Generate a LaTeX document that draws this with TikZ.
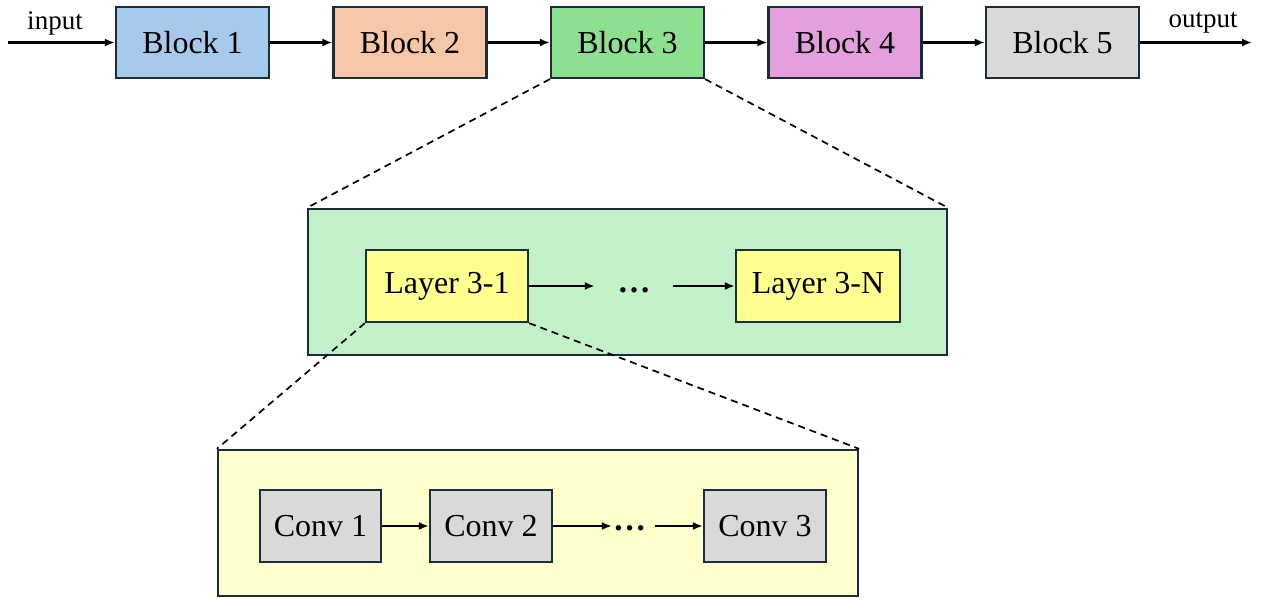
\documentclass[tikz,border=0pt]{standalone}
\usepackage{fontspec}
\setmainfont{Liberation Serif}
\usetikzlibrary{arrows.meta}
\definecolor{edgec}{HTML}{1B2D3B}
\definecolor{cone}{HTML}{A7CAEC}
\definecolor{ctwo}{HTML}{F6C6A9}
\definecolor{cthree}{HTML}{8CE08F}
\definecolor{cfour}{HTML}{E39FDE}
\definecolor{cfive}{HTML}{D9D9D9}
\definecolor{greenbg}{HTML}{C2F0C8}
\definecolor{layerc}{HTML}{FFFF8F}
\definecolor{yellowbg}{HTML}{FFFFCC}
\definecolor{convc}{HTML}{D9D9D9}
\begin{document}
\begin{tikzpicture}[x=1pt,y=-1pt,
  blk/.style={draw=edgec, line width=2.3pt, minimum width=153pt, minimum height=71pt, inner sep=0pt, font=\fontsize{32}{37}\selectfont},
  panel/.style={draw=edgec, line width=2.3pt, minimum width=639pt, minimum height=146pt, inner sep=0pt},
  lbl/.style={inner sep=0pt, font=\fontsize{27}{32}\selectfont},
  dotsn/.style={inner sep=0pt, font=\fontsize{33}{38}\selectfont\bfseries},
  arr/.style={-{Latex[length=10pt,width=8pt]}, line width=2.1pt},
  zoomln/.style={dash pattern=on 7pt off 5pt, line width=1.7pt},
]
\useasboundingbox (0,0) rectangle (1265,599);
% top row
\node[blk, fill=cone] (b1) at (192.5,42.5) {Block 1};
\node[blk, fill=ctwo] (b2) at (410,42.5) {Block 2};
\node[blk, fill=cthree] (b3) at (627.5,42.5) {Block 3};
\node[blk, fill=cfour] (b4) at (845,42.5) {Block 4};
\node[blk, fill=cfive] (b5) at (1062.5,42.5) {Block 5};
\coordinate (in) at (8,42.5);
\coordinate (out) at (1252,42.5);
\node[lbl] (inlbl) at (55,23) {input};
\node[lbl] (outlbl) at (1203,23) {output};
\draw[arr] (in) -- (b1);
\draw[arr] (b1) -- (b2);
\draw[arr] (b2) -- (b3);
\draw[arr] (b3) -- (b4);
\draw[arr] (b4) -- (b5);
\draw[arr] (b5) -- (out);
% green panel
\node[panel, fill=greenbg] (g) at (627.5,282) {};
\draw[zoomln] (b3.south west) -- (g.north west);
\draw[zoomln] (b3.south east) -- (g.north east);
\node[blk, fill=layerc, minimum width=162pt, minimum height=72pt] (l1) at (447,286) {Layer 3-1};
\node[blk, fill=layerc, minimum width=164pt, minimum height=72pt] (ln) at (818,286) {Layer 3-N};
\node[dotsn, minimum width=78pt] (d1) at (634,290) {…};
\draw[arr] (l1.east) -- (l1.east -| d1.west);
\draw[arr] (ln.west -| d1.east) -- (ln.west);
% yellow panel
\node[panel, fill=yellowbg, minimum width=640pt] (y) at (538,523) {};
\draw[zoomln] (l1.south west) -- (y.north west);
\draw[zoomln] (l1.south east) -- (y.north east);
\node[blk, fill=convc, minimum width=121pt, minimum height=72pt] (c1) at (320.5,526) {Conv 1};
\node[blk, fill=convc, minimum width=122pt, minimum height=72pt] (c2) at (491,526) {Conv 2};
\node[blk, fill=convc, minimum width=122pt, minimum height=72pt] (c3) at (765,526) {Conv 3};
\node[dotsn, minimum width=43pt] (d2) at (633.5,528) {\hspace*{-8pt}…};
\draw[arr] (c1) -- (c2);
\draw[arr] (c2.east) -- (c2.east -| d2.west);
\draw[arr] (c3.west -| d2.east) -- (c3.west);
\end{tikzpicture}
\end{document}
